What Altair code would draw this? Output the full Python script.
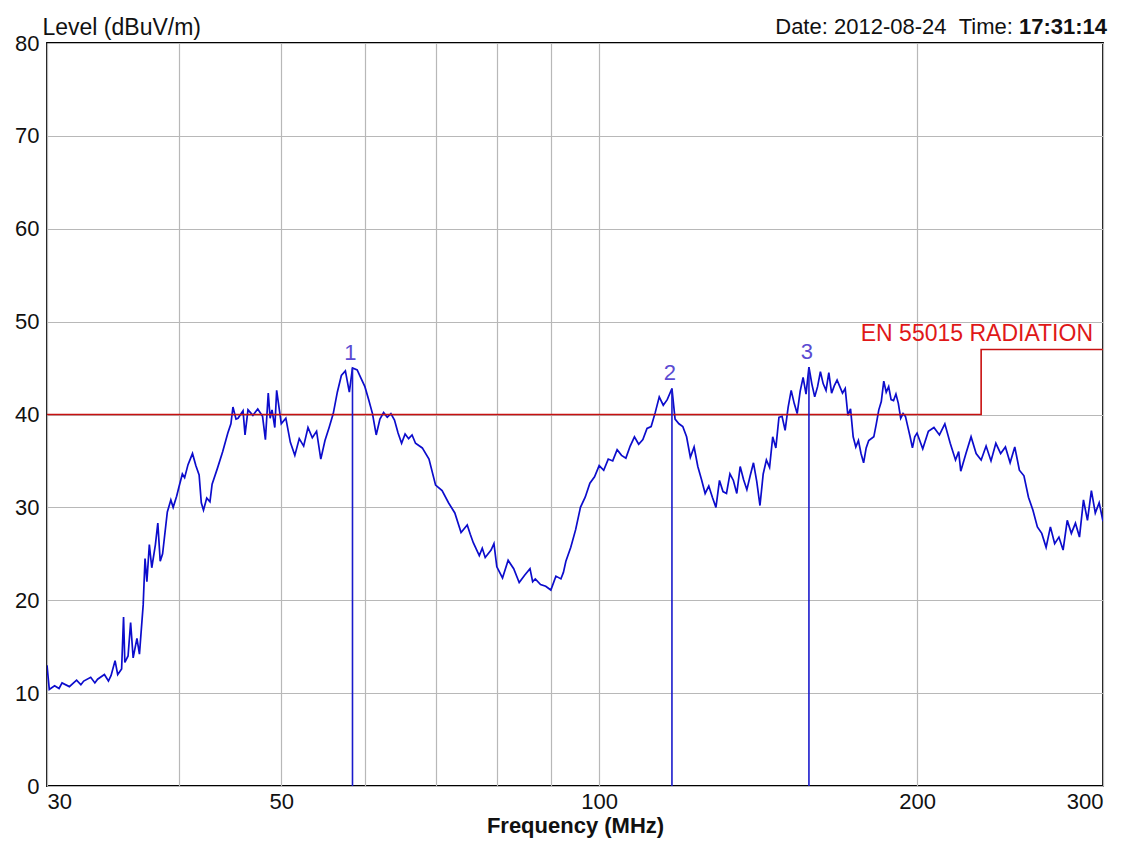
import altair as alt
import pandas as pd

FONT = "Liberation Sans, Arial, Helvetica, sans-serif"

# ---- measured trace (frequency in MHz, level in dBuV/m) ----
freq_mhz = [
    30, 30.15, 30.5, 30.8, 31, 31.5, 32, 32.3, 32.5, 33, 33.3, 33.5, 34, 34.3, 34.5, 34.8,
    35, 35.3, 35.45, 35.55, 35.8, 36, 36.2, 36.5, 36.7, 37, 37.15, 37.3, 37.5, 37.7, 38,
    38.2, 38.4, 38.6, 39, 39.3, 39.5, 39.8, 40, 40.3, 40.5, 40.8, 41, 41.2, 41.5, 41.8,
    42, 42.2, 42.5, 42.8, 43, 43.5, 44, 44.3, 44.5, 44.8, 45, 45.3, 45.5, 46, 46.2, 46.5,
    47, 47.5, 48, 48.3, 48.6, 48.8, 49, 49.3, 49.5, 50, 50.5, 51, 51.5, 52, 52.5, 53,
    53.5, 54, 54.5, 55, 55.5, 56, 56.5, 57, 57.5, 58, 58.4, 59, 59.5, 60, 60.5, 61, 61.5,
    62, 62.5, 63, 63.5, 64, 64.5, 65, 65.5, 66, 66.5, 67, 68, 69, 70, 71, 72, 73, 74, 75,
    75.5, 76, 77, 77.5, 78, 79, 79.5, 80, 81, 82, 83, 84, 85, 86, 86.5, 87, 88, 89, 90,
    91, 92, 92.5, 93, 94, 95, 96, 97, 98, 99, 100, 101, 102, 103, 104, 105, 106, 107, 108,
    109, 110, 111, 112, 113, 114, 115, 116, 117.2, 118, 119, 120, 121, 122, 123, 124, 125,
    126, 127, 128, 129, 130, 131, 132, 133, 134, 135, 136, 137, 138, 139, 140, 141, 142,
    143, 144, 145, 146, 147, 148, 149, 150, 151, 152, 153, 154, 155, 156, 157, 158, 159,
    160, 161, 162, 163, 164, 165, 166, 167, 168, 170, 171, 172, 173, 174, 175, 176, 177,
    178, 179, 180, 182, 183, 184, 185, 186, 187, 188, 189, 190, 191, 192, 193, 194, 195,
    196, 197, 198, 199, 200, 202.5, 205, 207.5, 210, 212.5, 215, 217.5, 219, 220, 222.5,
    225, 227.5, 230, 232.5, 235, 237.5, 240, 242.5, 245, 247.5, 250, 252.5, 255, 257.5,
    260, 262.5, 265, 267.5, 270, 272.5, 275, 277.5, 280, 282.5, 285, 287.5, 290, 292.5,
    295, 297.5, 300,
]
level_dbuv = [
    13.0, 10.4, 10.8, 10.5, 11.1, 10.7, 11.4, 10.9, 11.3, 11.7, 11.1, 11.5, 12.0, 11.3, 11.9, 13.5,
    12.0, 12.6, 18.2, 13.3, 14.0, 17.6, 13.8, 15.9, 14.2, 19.5, 24.5, 22.0, 26.0, 23.5, 26.0,
    28.3, 24.2, 25.0, 29.5, 30.8, 30.0, 31.2, 32.2, 33.6, 33.2, 34.6, 35.2, 35.8, 34.5, 33.5,
    30.5, 29.7, 31.0, 30.6, 32.5, 34.2, 36.0, 37.2, 38.0, 39.0, 40.8, 39.5, 39.6, 40.4, 37.8, 40.5,
    39.9, 40.6, 39.8, 37.3, 42.3, 39.6, 40.5, 38.6, 42.6, 39.0, 39.6, 37.0, 35.6, 37.4, 36.6, 38.6,
    37.5, 38.2, 35.2, 37.2, 38.6, 40.1, 42.4, 44.2, 44.7, 42.4, 45.0, 44.8, 43.9, 43.0, 41.6, 40.1, 37.8,
    39.5, 40.2, 39.7, 40.1, 39.4, 38.0, 36.9, 37.9, 37.4, 37.8, 36.9, 36.4, 35.2, 32.4, 31.8, 30.5, 29.4, 27.3, 28.1,
    27.1, 26.2, 24.8, 25.6, 24.6, 25.4, 26.1, 23.6, 22.4, 24.3, 23.4, 21.9, 22.7, 23.4, 22.0, 22.3, 21.7, 21.5, 21.1,
    22.6, 22.3, 23.0, 24.2, 25.7, 27.6, 30.0, 31.1, 32.6, 33.3, 34.5, 34.0, 35.2, 35.0, 36.2, 35.6, 35.3, 36.6, 37.6,
    36.8, 37.3, 38.5, 38.7, 40.2, 41.9, 41.0, 41.6, 42.8, 39.5, 39.0, 38.7, 37.6, 35.4, 36.5, 34.4, 33.0,
    31.5, 32.3, 31.1, 30.0, 32.9, 31.7, 31.5, 33.6, 32.9, 31.5, 34.4, 33.0, 31.9, 33.4, 34.8, 32.8, 30.2,
    33.6, 35.1, 34.3, 37.6, 36.4, 39.7, 39.8, 38.3, 40.8, 42.6, 41.2, 40.1, 42.5, 44.0, 42.2, 45.1, 43.3,
    41.9, 43.0, 44.6, 43.3, 42.6, 44.5, 42.3, 43.1, 43.7, 42.3, 42.8, 39.9, 40.6, 37.6, 36.5, 37.2, 35.8,
    34.8, 36.4, 37.2, 37.6, 39.0, 40.5, 41.4, 43.6, 42.4, 43.0, 41.6, 41.5, 42.2, 41.2, 39.6, 40.1, 39.8,
    38.7, 37.6, 36.4, 37.6, 38.0, 36.3, 38.2, 38.6, 37.8, 39.0, 36.9, 35.1, 36.0, 33.9, 35.8,
    37.6, 35.8, 35.1, 36.6, 35.0, 36.9, 35.8, 36.5, 34.8, 36.5, 34.0, 33.4, 31.1, 29.7,
    27.9, 27.2, 25.7, 27.9, 26.1, 26.8, 25.4, 28.6, 27.2, 28.3, 26.8, 30.8, 28.6, 31.8,
    29.4, 30.5, 28.5,
]

# ---- limit line ----
limit_freq = [30, 230, 230, 300]
limit_level = [40, 40, 47, 47]
limit_name = "EN 55015 RADIATION"

# ---- markers ----
marker_id = ["1", "2", "3"]
marker_freq = [58.4, 117.2, 158.0]
marker_level = [45.0, 42.8, 45.1]

# ---- axes / header texts ----
x_grid_values = [30, 40, 50, 60, 70, 80, 90, 100, 200, 300]
x_label_values = [30, 50, 100, 200, 300]
y_tick_values = [0, 10, 20, 30, 40, 50, 60, 70, 80]
date_text = "Date: 2012-08-24\u00a0\u00a0Time:"
time_text = "17:31:14"

W, H = 1056, 743
HEAD_SIZE = 22
BOLD_W = 4.0 * HEAD_SIZE  # width of bold time string (Arial metrics)
SPACE_W = 0.278 * HEAD_SIZE

trace_df = pd.DataFrame({"f": freq_mhz, "lvl": level_dbuv})
limit_df = pd.DataFrame({"f": limit_freq, "lvl": limit_level, "ord": list(range(len(limit_freq)))})
marker_df = pd.DataFrame({"f": marker_freq, "lvl": marker_level, "id": marker_id})
limit_lab_df = pd.DataFrame({"f": [limit_freq[-1]], "lvl": [limit_level[-1]], "t": [limit_name]})

xs = alt.Scale(type="log", domain=[30, 300], nice=False)
ys = alt.Scale(domain=[0, 80], nice=False, zero=False)

label_expr = ("indexof([" + ",".join(str(v) for v in x_label_values)
              + "], datum.value) >= 0 ? format(datum.value, 'd') : ''")

x_axis = alt.Axis(values=x_grid_values, labelExpr=label_expr, title="Frequency (MHz)",
                  titleFontWeight="bold", titleFontSize=22, labelFontSize=22,
                  labelPadding=5, titlePadding=3, labelFlush=True, labelOverlap=False,
                  grid=True, ticks=False, domain=False, labelAngle=0)
y_axis = alt.Axis(values=y_tick_values, title="Level (dBuV/m)", titleAngle=0,
                  titleAlign="left", titleBaseline="alphabetic", titleX=-5, titleY=-9,
                  titleFontWeight="normal", titleFontSize=23, labelFontSize=22,
                  labelPadding=8, grid=True, ticks=False, domain=False)

trace = alt.Chart(trace_df).mark_line(color="#0C0CCC", strokeWidth=1.7, clip=True).encode(
    x=alt.X("f:Q", scale=xs, axis=x_axis),
    y=alt.Y("lvl:Q", scale=ys, axis=y_axis),
)

limit = alt.Chart(limit_df).mark_line(color="#C81010", strokeWidth=1.6).encode(
    x=alt.X("f:Q", scale=xs),
    y=alt.Y("lvl:Q", scale=ys),
    order="ord:O",
)

markers = alt.Chart(marker_df).mark_rule(color="#1A1ACC", strokeWidth=1.6).encode(
    x=alt.X("f:Q", scale=xs),
    y=alt.Y("lvl:Q", scale=ys),
    y2=alt.datum(0),
)

marker_labels = alt.Chart(marker_df).mark_text(
    dy=-8, dx=-2, baseline="alphabetic", fontSize=22, color="#5B4BD2", font=FONT
).encode(
    x=alt.X("f:Q", scale=xs),
    y=alt.Y("lvl:Q", scale=ys),
    text="id:N",
)

limit_label = alt.Chart(limit_lab_df).mark_text(
    align="right", baseline="alphabetic", dx=-10, dy=-8, fontSize=23, color="#E01818", font=FONT
).encode(
    x=alt.X("f:Q", scale=xs),
    y=alt.Y("lvl:Q", scale=ys),
    text="t:N",
)

time_lab = alt.Chart(pd.DataFrame({"t": [time_text]})).mark_text(
    align="right", baseline="alphabetic", fontSize=HEAD_SIZE, fontWeight="bold",
    color="#111111", font=FONT
).encode(x=alt.value(W + 4), y=alt.value(-9), text="t:N")

date_lab = alt.Chart(pd.DataFrame({"t": [date_text]})).mark_text(
    align="right", baseline="alphabetic", fontSize=HEAD_SIZE, color="#111111", font=FONT
).encode(x=alt.value(W + 4 - BOLD_W - SPACE_W), y=alt.value(-9), text="t:N")

chart = alt.layer(
    trace, limit, markers, marker_labels, limit_label, time_lab, date_lab
).properties(
    width=W, height=H,
    autosize=alt.AutoSizeParams(type="none"),
    padding={"left": 39, "top": 35, "right": 15, "bottom": 60},
    background="white",
).configure_view(
    stroke="#000000", strokeWidth=1.8
).configure_axis(
    labelFont=FONT, titleFont=FONT, labelColor="#111111", titleColor="#111111",
    gridColor="#B8B8B8", gridWidth=1.2, gridOpacity=1,
)

chart.save("out.html", embed_options={"renderer": "svg", "actions": False})
